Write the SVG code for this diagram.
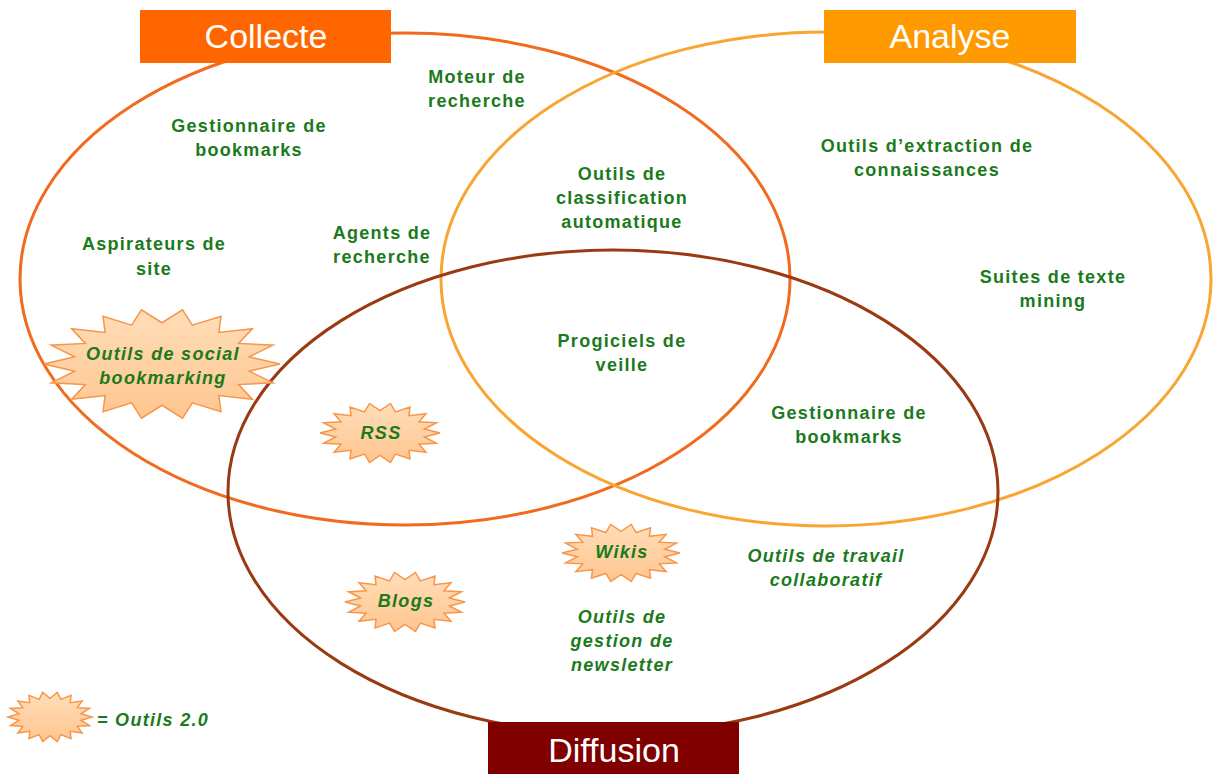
<svg xmlns="http://www.w3.org/2000/svg" xmlns:xlink="http://www.w3.org/1999/xlink" width="1216" height="774" viewBox="0 0 1216 774">
<style>
.t{font-family:"Liberation Sans",Arial,sans-serif;font-weight:bold;font-size:18px;fill:#1B7A1B;text-anchor:middle;letter-spacing:1.3px}
.i{font-style:italic}
.h{font-family:"Liberation Sans",Arial,sans-serif;font-size:34px;fill:#ffffff;text-anchor:middle}
.st{fill:url(#sg);stroke:#F7964A;stroke-width:1.5;vector-effect:non-scaling-stroke}
.e{fill:none;stroke-width:3}
</style>
<defs>
<linearGradient id="sg" x1="0" y1="0" x2="0" y2="1">
<stop offset="0" stop-color="#FFDDB8"/>
<stop offset="1" stop-color="#FFC690"/>
</linearGradient>
<polygon id="star" class="st" points="1,0 .739,.130 .940,.342 .650,.375 .766,.643 .482,.575 .5,.866 .257,.705 .174,.985 0,.75 -.174,.985 -.257,.705 -.5,.866 -.482,.575 -.766,.643 -.650,.375 -.940,.342 -.739,.130 -1,0 -.739,-.130 -.940,-.342 -.650,-.375 -.766,-.643 -.482,-.575 -.5,-.866 -.257,-.705 -.174,-.985 0,-.75 .174,-.985 .257,-.705 .5,-.866 .482,-.575 .766,-.643 .650,-.375 .940,-.342 .739,-.130"/>
</defs>
<rect width="1216" height="774" fill="#ffffff"/>
<g id="sets">
<ellipse id="collecte-set" class="e" cx="405" cy="279" rx="385" ry="246" stroke="#F26A1E"/>
<ellipse id="analyse-set" class="e" cx="826" cy="279" rx="385" ry="247" stroke="#F9A532"/>
<ellipse id="diffusion-set" class="e" cx="613" cy="492" rx="385" ry="242" stroke="#9A3A12"/>
</g>
<g id="collecte"><rect x="140" y="10" width="251" height="53" fill="#FF6600"/><text class="h" x="266" y="48">Collecte</text></g>
<g id="analyse"><rect x="824" y="10" width="252" height="53" fill="#FF9900"/><text class="h" x="950" y="48">Analyse</text></g>
<g id="diffusion"><rect x="488" y="722" width="251" height="52" fill="#800000"/><text class="h" x="614" y="762">Diffusion</text></g>
<g id="moteur"><text class="t" x="477" y="83">Moteur de</text><text class="t" x="477" y="107">recherche</text></g>
<g id="gestionnaire1"><text class="t" x="249" y="132">Gestionnaire de</text><text class="t" x="249" y="156">bookmarks</text></g>
<g id="aspirateurs"><text class="t" x="154" y="250">Aspirateurs de</text><text class="t" x="154" y="275">site</text></g>
<g id="agents"><text class="t" x="382" y="239">Agents de</text><text class="t" x="382" y="263">recherche</text></g>
<g id="classification"><text class="t" x="622" y="180">Outils de</text><text class="t" x="622" y="204">classification</text><text class="t" x="622" y="228">automatique</text></g>
<g id="extraction"><text class="t" x="927" y="152">Outils d’extraction de</text><text class="t" x="927" y="176">connaissances</text></g>
<g id="suites"><text class="t" x="1053" y="283">Suites de texte</text><text class="t" x="1053" y="307">mining</text></g>
<g id="progiciels"><text class="t" x="622" y="347">Progiciels de</text><text class="t" x="622" y="371">veille</text></g>
<g id="gestionnaire2"><text class="t" x="849" y="419">Gestionnaire de</text><text class="t" x="849" y="443">bookmarks</text></g>
<g id="travail"><text class="t i" x="826" y="562">Outils de travail</text><text class="t i" x="826" y="586">collaboratif</text></g>
<g id="newsletter"><text class="t i" x="622" y="623">Outils de</text><text class="t i" x="622" y="647">gestion de</text><text class="t i" x="622" y="671">newsletter</text></g>
<g id="social"><use xlink:href="#star" transform="translate(162,364) scale(118,55)"/><text class="t i" x="163" y="360">Outils de social</text><text class="t i" x="163" y="384">bookmarking</text></g>
<g id="rss"><use xlink:href="#star" transform="translate(380,433) scale(60,30)"/><text class="t i" x="381" y="439">RSS</text></g>
<g id="wikis"><use xlink:href="#star" transform="translate(621,553) scale(59,29)"/><text class="t i" x="622" y="558">Wikis</text></g>
<g id="blogs"><use xlink:href="#star" transform="translate(405,602) scale(60,30)"/><text class="t i" x="406" y="607">Blogs</text></g>
<g id="legend"><use xlink:href="#star" transform="translate(50,717) scale(42,25)"/><text class="t i" x="97" y="726" style="text-anchor:start">= Outils 2.0</text></g>
</svg>
